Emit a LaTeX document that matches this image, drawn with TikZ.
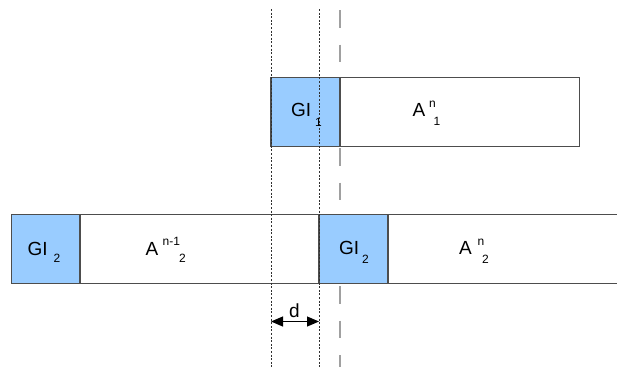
\documentclass[tikz,border=0pt]{standalone}
\usepackage{fontspec}
\setmainfont{Liberation Sans}
\usetikzlibrary{arrows.meta}
\definecolor{giblue}{HTML}{99CCFF}
\definecolor{boxline}{HTML}{4D4D4D}
\definecolor{dashgray}{HTML}{A0A0A0}
\definecolor{dotgray}{HTML}{303030}
\tikzset{
  gibox/.style={draw=boxline, line width=1.2pt, fill=giblue},
  abox/.style={draw=boxline, line width=1.2pt, fill=white},
  big/.style={inner sep=0pt, anchor=base west, font=\fontsize{19}{21}\selectfont},
  small/.style={inner sep=0pt, anchor=base west, font=\fontsize{12}{13}\selectfont},
  dotline/.style={draw=dotgray, line width=0.8pt, dash pattern=on 2pt off 1.6pt},
  dashline/.style={draw=dashgray, line width=1.6pt, dash pattern=on 17.5pt off 17pt},
  dimarrow/.style={line width=1.1pt, {Triangle[length=12pt,width=10pt]}-{Triangle[length=12pt,width=10pt]}}
}
\begin{document}
\begin{tikzpicture}[x=1pt,y=-1pt]
\useasboundingbox (0,0) rectangle (617,367);
\clip (0,0) rectangle (617,367);
% guide coordinates
\coordinate (dashtop) at (340,10);
\coordinate (dashbot) at (340,367);
\coordinate (dot1top) at (271,9);
\coordinate (dot1bot) at (271,367);
\coordinate (dot2top) at (319,9);
\coordinate (dot2bot) at (319,367);
% dashed guide (behind boxes)
\draw[dashline] (dashtop) -- (dashbot);
% top row
\draw[abox] (340,77.7) rectangle (579.3,146.7);
\draw[gibox] (271,77.7) rectangle (340,146.7);
% bottom row
\draw[abox] (11.7,214.7) rectangle (630,283.3);
\draw[abox] (80,214.7) rectangle (319,283.3);
\draw[abox] (388,214.7) rectangle (630,283.3);
\draw[gibox] (11.7,214.7) rectangle (80,283.3);
\draw[gibox] (319,214.7) rectangle (388,283.3);
% dotted guides (on top)
\draw[dotline] (dot1top) -- (dot1bot);
\draw[dotline] (dot2top) -- (dot2bot);
% labels top row
\node[big] (gi1) at (291,116) {GI};
\node[small] (gi1s) at (315,126.5) {1};
\node[big] (a1) at (412.5,116) {A};
\node[small] (a1n) at (429,107.5) {n};
\node[small] (a1s) at (433.5,125) {1};
% labels bottom row
\node[big] (gi2l) at (27.5,255) {GI};
\node[small] (gi2ls) at (53.5,262.5) {2};
\node[big] (a2l) at (145.5,255) {A};
\node[small] (a2ln) at (162.5,245.5) {n-1};
\node[small] (a2ls) at (179,262.5) {2};
\node[big] (gi2r) at (339,254.5) {GI};
\node[small] (gi2rs) at (362,263) {2};
\node[big] (a2r) at (459,254.5) {A};
\node[small] (a2rn) at (477.5,245.5) {n};
\node[small] (a2rs) at (482,263) {2};
% dimension arrow
\coordinate (dl) at (271,321.5);
\coordinate (dr) at (319,321.5);
\draw[dimarrow] (dl) -- (dr);
\node[big, anchor=base] (dlab) at (294.5,317) {d};
\end{tikzpicture}
\end{document}
